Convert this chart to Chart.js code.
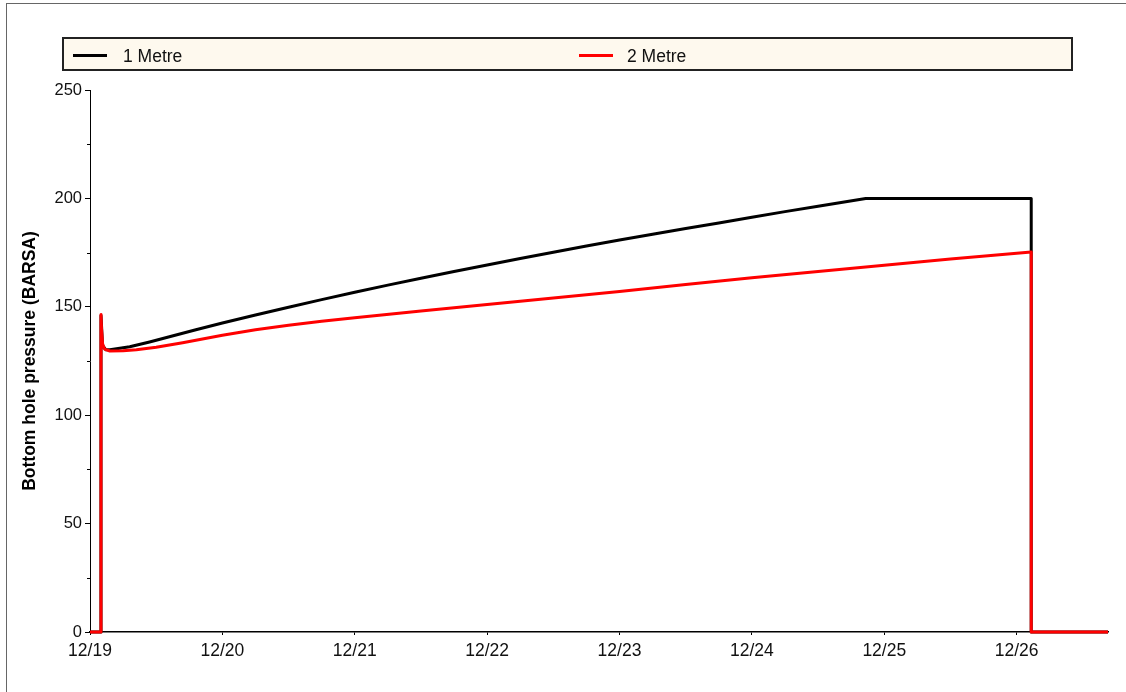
<!DOCTYPE html>
<html>
<head>
<meta charset="utf-8">
<script src="https://cdn.jsdelivr.net/npm/chart.js@4"></script>
<style>
  html, body { margin: 0; padding: 0; background: #fff; overflow: hidden; }
  body { width: 1126px; height: 692px; position: relative; font-family: Arial, "Liberation Sans", sans-serif; }
  .frame { position: absolute; left: 6px; top: 3px; width: 1200px; height: 800px; border-top: 1px solid #666; border-left: 1px solid #666; }
  .legend { position: absolute; left: 62px; top: 37px; width: 1007px; height: 30px; background: #fef9ee; border: 2px solid #222; }
  .legend .item { position: absolute; top: 0; height: 30px; line-height: 35px; font-size: 17.5px; color: #111; }
  .legend .swatch { position: absolute; top: 15px; width: 34px; height: 3px; }
  .legend .label { position: absolute; white-space: nowrap; }
  #chart-wrap { position: absolute; left: 0; top: 0; width: 1126px; height: 692px; }
</style>
</head>
<body>
<div class="frame"></div>
<div id="chart-wrap"><canvas id="chart-bhp"></canvas></div>
<div class="legend" id="legend"></div>
<script>
// ── Data (time in days from 12/19 00:00) ─────────────────────────────────────

const xTickLabels = ["12/19", "12/20", "12/21", "12/22", "12/23", "12/24", "12/25", "12/26"];
const yTicks = [0, 50, 100, 150, 200, 250];
const seriesNames = ["1 Metre", "2 Metre"];

const metre1Days = [0, 0.083, 0.083, 0.095, 0.12, 0.15, 0.3, 0.45, 0.6, 0.8, 1.0, 1.25, 1.5, 1.75, 2.0, 2.25, 2.5, 2.75, 3.0, 3.25, 3.5, 3.75, 4.0, 4.25, 4.5, 4.75, 5.0, 5.25, 5.5, 5.86, 7.11, 7.11, 7.69];
const metre1Bhp  = [0, 0, 146, 132, 130.2, 130.2, 131.6, 133.8, 136.2, 139.4, 142.5, 146.2, 149.8, 153.3, 156.7, 160.0, 163.2, 166.3, 169.3, 172.3, 175.2, 178.0, 180.8, 183.5, 186.1, 188.7, 191.3, 193.9, 196.4, 200, 200, 0, 0];

const metre2Days = [0, 0.083, 0.083, 0.087, 0.095, 0.11, 0.15, 0.25, 0.35, 0.5, 0.7, 1.0, 1.25, 1.5, 1.75, 2.0, 2.5, 3.0, 3.5, 4.0, 4.5, 5.0, 5.5, 6.0, 6.5, 7.11, 7.11, 7.69];
const metre2Bhp  = [0, 0, 146.5, 140, 133, 130.5, 129.6, 129.7, 130.2, 131.3, 133.4, 136.9, 139.4, 141.5, 143.3, 145.0, 148.1, 151.1, 154.1, 157.1, 160.3, 163.4, 166.3, 169.2, 172.0, 175.3, 0, 0];

const seriesColors = ["#000000", "#ff0000"];

const X_MAX = 7.69;

// ── Legend (HTML) ─────────────────────────────────────────────────────────────

function renderLegend() {
  const box = document.getElementById("legend");
  const positions = [{ sw: 9, lb: 59 }, { sw: 515, lb: 563 }];
  box.innerHTML = seriesNames.map((name, i) => `
    <div class="item">
      <div class="swatch" style="left:${positions[i].sw}px;background:${seriesColors[i]}"></div>
      <div class="label" style="left:${positions[i].lb}px">${name}</div>
    </div>`).join("");
}

// ── Minor ticks on y axis ─────────────────────────────────────────────────────

const minorTicks = {
  id: "minorTicks",
  afterDraw(chart) {
    const y = chart.scales.y;
    const ctx = chart.ctx;
    const x0 = chart.chartArea.left;
    ctx.save();
    ctx.strokeStyle = "#000";
    ctx.lineWidth = 1;
    for (let v = 25; v < 250; v += 50) {
      const py = Math.round(y.getPixelForValue(v)) + 0.5;
      ctx.beginPath();
      ctx.moveTo(x0 - 3, py);
      ctx.lineTo(x0, py);
      ctx.stroke();
    }
    ctx.restore();
  },
};

// ── Chart ─────────────────────────────────────────────────────────────────────

function toPoints(xs, ys) {
  return xs.map((x, i) => ({ x, y: ys[i] }));
}

renderLegend();

const ctx = document.getElementById("chart-bhp");
new Chart(ctx, {
  type: "line",
  data: {
    datasets: [
      {
        label: seriesNames[0],
        data: toPoints(metre1Days, metre1Bhp),
        borderColor: seriesColors[0],
        borderWidth: 3,
        order: 2,
      },
      {
        label: seriesNames[1],
        data: toPoints(metre2Days, metre2Bhp),
        borderColor: seriesColors[1],
        borderWidth: 3,
        order: 1,
      },
    ],
  },
  options: {
    responsive: true,
    maintainAspectRatio: false,
    animation: false,
    events: [],
    layout: { padding: { left: 10, right: 18, top: 90, bottom: 0 } },
    elements: {
      point: { radius: 0 },
      line: { tension: 0, borderJoinStyle: "round", borderCapStyle: "butt" },
    },
    clip: false,
    plugins: {
      legend: { display: false },
      tooltip: { enabled: false },
    },
    scales: {
      x: {
        type: "linear",
        min: 0,
        max: X_MAX,
        afterBuildTicks: (scale) => {
          scale.ticks = xTickLabels.map((_, i) => ({ value: i }));
        },
        afterFit: (scale) => { scale.height = 60; },
        ticks: {
          color: "#111",
          font: { family: "Arial, 'Liberation Sans'", size: 17.5 },
          padding: 6,
          maxRotation: 0,
          autoSkip: false,
          callback: (v) => xTickLabels[v] || "",
        },
        grid: { display: true, drawOnChartArea: false, tickLength: 3, color: "#000" },
        border: { color: "#000", width: 1.5 },
      },
      y: {
        min: 0,
        max: 250,
        afterBuildTicks: (scale) => {
          scale.ticks = yTicks.map((v) => ({ value: v }));
        },
        afterFit: (scale) => { scale.width = 80; },
        title: {
          display: true,
          text: "Bottom hole pressure (BARSA)",
          color: "#000",
          font: { family: "Arial, 'Liberation Sans'", size: 17.5, weight: "bold" },
          padding: { top: 10, bottom: 0 },
        },
        ticks: {
          color: "#111",
          font: { family: "Arial, 'Liberation Sans'", size: 16.5 },
          padding: 3,
        },
        grid: { display: true, drawOnChartArea: false, tickLength: 5, color: "#000" },
        border: { color: "#000", width: 1 },
      },
    },
  },
  plugins: [minorTicks],
});
</script>
</body>
</html>
